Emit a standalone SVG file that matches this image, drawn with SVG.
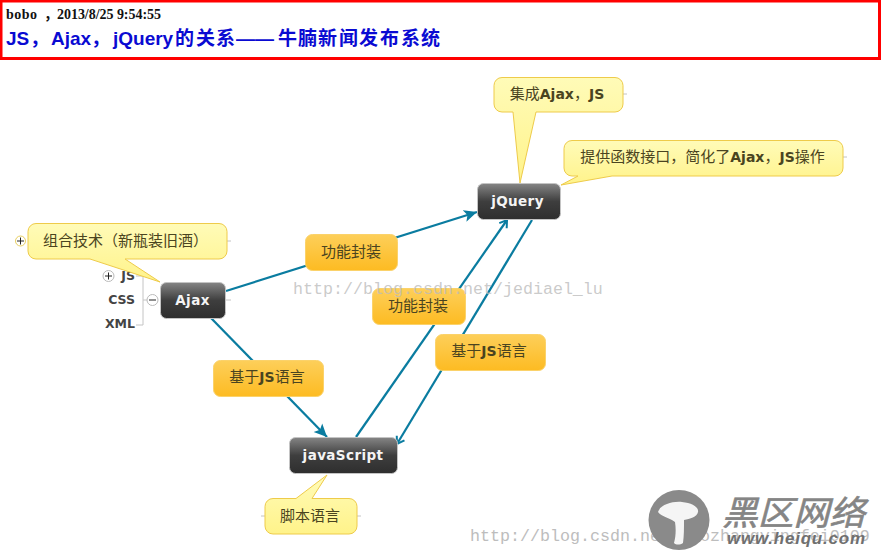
<svg xmlns="http://www.w3.org/2000/svg" width="881" height="555" viewBox="0 0 881 555">
<style>
text{font-family:"Liberation Sans","Noto Sans CJK SC",sans-serif}
.cn{font-family:"DejaVu Sans","Noto Sans CJK SC",sans-serif;font-size:15px;fill:#4a4420;text-anchor:middle;text-spacing-trim:space-all}
.cn tspan{font-weight:700;font-size:14px}
.n{fill:url(#dark);stroke:#c4c4c4;stroke-width:1}
.nt{font-family:"DejaVu Sans",sans-serif;font-size:13.5px;letter-spacing:.4px;font-weight:700;fill:#f4f4f4;text-anchor:middle}
.y{fill:url(#yel);stroke:#eecb4a;stroke-width:1;stroke-linejoin:round}
.o{fill:url(#ora);stroke:#fbd26a;stroke-width:1}
.c{fill:none;stroke:#0a7ca0;stroke-width:2.2}
.sub{font-family:"DejaVu Sans",sans-serif;font-size:12.5px;font-weight:700;fill:#444;text-anchor:end}
.b{fill:#fff;stroke:#bbb;stroke-width:1}
.m{stroke:#222;stroke-width:1;fill:none}
.t{stroke:#c4c4c4;stroke-width:1;fill:none}
.wm{font-family:"Liberation Mono",monospace;font-size:16.67px;fill:#bdbdbd}
.h{font-family:"Liberation Serif","Noto Sans CJK SC",serif;font-size:14px;font-weight:700;fill:#111}
</style>
<defs>
<linearGradient id="dark" x1="0" y1="0" x2="0" y2="1"><stop offset="0" stop-color="#858585"/><stop offset=".5" stop-color="#3e3e3e"/><stop offset="1" stop-color="#2e2e2e"/></linearGradient>
<linearGradient id="yel" x1="0" y1="0" x2="0" y2="1"><stop offset="0" stop-color="#fffbb8"/><stop offset="1" stop-color="#fff38a"/></linearGradient>
<linearGradient id="ora" x1="0" y1="0" x2="0" y2="1"><stop offset="0" stop-color="#fdcf5a"/><stop offset="1" stop-color="#fdbb22"/></linearGradient>
<marker id="solid" markerUnits="userSpaceOnUse" markerWidth="15" markerHeight="14" refX="13" refY="7" orient="auto"><path d="M0 1L13 7L0 13L3 7z" fill="#0a7ca0"/></marker>
<marker id="open" markerUnits="userSpaceOnUse" markerWidth="14" markerHeight="14" refX="11" refY="7" orient="auto"><path d="M4 2.500L11 7L4 11.500" fill="none" stroke="#0a7ca0" stroke-width="2"/></marker>
</defs>
<rect x="1" y="1" width="878.500" height="57.500" fill="#fff" stroke="#f00" stroke-width="3"/>
<g id="header">
<text class="h" x="6" y="19" textLength="31" lengthAdjust="spacing">bobo</text>
<text class="h" x="44" y="19">，</text>
<text class="h" x="57" y="19" textLength="104" lengthAdjust="spacing">2013/8/25 9:54:55</text>
<text y="45" font-size="19" font-weight="700" fill="#0a0ad2"><tspan x="6">JS</tspan><tspan x="30">，</tspan><tspan x="51">Ajax</tspan><tspan x="91">，</tspan><tspan x="113">jQuery</tspan><tspan x="175 196 216">的关系</tspan><tspan x="236 255">——</tspan><tspan x="278 298 318 339 359 380 401 421">牛腩新闻发布系统</tspan></text>
</g>

<g id="connectors">
<path class="c" d="M226 291L477 212" marker-end="url(#solid)"/>
<path class="c" d="M211 318L327 437" marker-end="url(#solid)"/>
<path class="c" d="M356 437L507 220" marker-end="url(#open)"/>
<path class="c" d="M532 220L397 444" marker-end="url(#open)"/>
</g>

<g id="ajax-subtopics">
<path class="t" d="M136 276H143V325H136M143 300H148M226 300H231"/>
<text class="sub" x="135" y="280">JS</text>
<text class="sub" x="135" y="304">CSS</text>
<text class="sub" x="135" y="328">XML</text>
<circle class="b" cx="108.500" cy="276" r="5.500"/><path class="m" d="M105 276H112M108.500 272.500V279.500"/>
<circle class="b" cx="152.500" cy="300" r="5.500"/><path class="m" d="M149 300H156"/>
</g>
<g id="node-ajax"><rect class="n" x="160.500" y="282.500" width="65" height="36" rx="6"/><text class="nt" x="192.500" y="305">Ajax</text></g>
<g id="node-jquery"><rect class="n" x="477.500" y="183.500" width="83" height="36" rx="6"/><text class="nt" x="517.500" y="206">jQuery</text></g>
<g id="node-javascript"><rect class="n" x="289.500" y="437.500" width="108" height="36" rx="6"/><text class="nt" x="343" y="460">javaScript</text></g>

<g id="note-ajax">
<path class="t" d="M227 241H231"/>
<circle cx="20.500" cy="241" r="5" fill="#fff" stroke="#e8cf60"/><path class="m" d="M17 241H24M20.500 237.500V244.500"/>
<path class="y" d="M36 223.500H219a8 8 0 0 1 8 8V251a8 8 0 0 1-8 8H125L160 282L90 259H36a8 8 0 0 1-8-8V231.500a8 8 0 0 1 8-8z"/>
<text class="cn" x="125.500" y="246">组合技术（新瓶装旧酒）</text>
</g>
<g id="note-jsbundle">
<path class="t" d="M623 94H627"/>
<path class="y" d="M502 77.500H615a8 8 0 0 1 8 8V104a8 8 0 0 1-8 8H536L520 183L513 112H502a8 8 0 0 1-8-8V85.500a8 8 0 0 1 8-8z"/>
<text class="cn" x="557" y="99">集成<tspan>Ajax</tspan>，<tspan>JS</tspan></text>
</g>
<g id="note-api">
<path class="t" d="M843 157H847"/>
<path class="y" d="M572 140.500H835a8 8 0 0 1 8 8V168a8 8 0 0 1-8 8H612L561 185L578 176H572a8 8 0 0 1-8-8V148.500a8 8 0 0 1 8-8z"/>
<text class="cn" x="702.500" y="162">提供函数接口，简化了<tspan>Ajax</tspan>，<tspan>JS</tspan>操作</text>
</g>
<g id="note-script">
<path class="t" d="M261 516H265M357 516H361"/>
<path class="y" d="M273 498.500H296L327 475L312 498.500H349a8 8 0 0 1 8 8V526a8 8 0 0 1-8 8H273a8 8 0 0 1-8-8V506.500a8 8 0 0 1 8-8z"/>
<text class="cn" x="310" y="521">脚本语言</text>
</g>

<g id="label-encap1"><rect class="o" x="305.500" y="234.500" width="92" height="36" rx="7"/><text class="cn" x="351" y="257">功能封装</text></g>
<g id="label-encap2"><rect class="o" x="372.500" y="288.500" width="93" height="36" rx="7"/><text class="cn" x="418" y="311">功能封装</text></g>
<g id="label-based1"><rect class="o" x="435.500" y="334.500" width="110" height="36" rx="7"/><text class="cn" x="489" y="356">基于<tspan>JS</tspan>语言</text></g>
<g id="label-based2"><rect class="o" x="213.500" y="360.500" width="110" height="36" rx="7"/><text class="cn" x="267" y="382">基于<tspan>JS</tspan>语言</text></g>

<g id="watermark1"><text class="wm" x="293" y="294" fill-opacity=".8">http://blog.csdn.net/jediael_lu</text></g>

<g id="watermark2">
<text class="wm" x="470" y="541">http://blog.csdn.net/caozhangyingfei0109</text>
<ellipse cx="679" cy="520" rx="30.500" ry="30" fill="#8a8a8a"/>
<path d="M658 512C660 505 672 501 682 502C692 503 699 507 698 512C697 517 690 519 684 520C684 528 684 536 683 543C680 545 676 545 674 543C676 536 676 528 675 522C668 517 662 517 658 512z" fill="#f5f5f5"/>
<text x="722" y="525" font-size="34" font-weight="400" font-style="italic" fill="#858585" stroke="#858585" stroke-width=".6" textLength="143" lengthAdjust="spacingAndGlyphs">黑区网络</text>
<text x="727" y="544" font-size="17" font-weight="700" font-style="italic" fill="#707070" textLength="138" lengthAdjust="spacing">www.heiqu.com</text>
</g>
</svg>
